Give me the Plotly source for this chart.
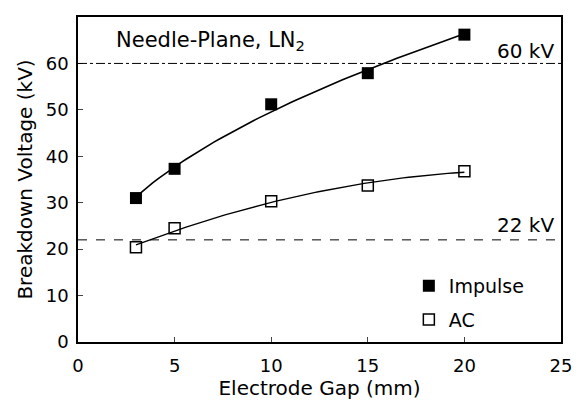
import numpy as np
import plotly.graph_objects as go

gap = [3, 5, 10, 15, 20]
impulse = [31.0, 37.3, 51.2, 57.9, 66.2]
ac = [20.4, 24.5, 30.3, 33.7, 36.8]
ref_levels = [60, 22]
ref_labels = ["60 kV", "22 kV"]
ref_shift = [-2, 1]
x_ticks = [0, 5, 10, 15, 20, 25]
y_ticks = [0, 10, 20, 30, 40, 50, 60, 70]

font = "DejaVu Sans, Arial, sans-serif"

# fitted trend curves (the original shows fitted curves through the measurements)
xf = np.linspace(min(gap), max(gap), 60)
imp_coef = np.polyfit(np.sqrt(gap), impulse, 1)
imp_fit = np.polyval(imp_coef, np.sqrt(xf))
ac_fit = np.polyval(np.polyfit(gap, ac, 2), xf)

fig = go.Figure()
fig.add_trace(go.Scatter(x=xf, y=imp_fit, mode="lines", showlegend=False,
                         line=dict(color="black", width=1.6)))
fig.add_trace(go.Scatter(x=xf, y=ac_fit, mode="lines", showlegend=False,
                         line=dict(color="black", width=1.3)))
fig.add_trace(go.Scatter(
    x=gap, y=impulse, mode="markers", name="Impulse", legendgroup="a",
    marker=dict(symbol="square", size=12, color="black"),
))
fig.add_trace(go.Scatter(
    x=gap, y=ac, mode="markers", name="AC", legendgroup="b",
    marker=dict(symbol="square-open", size=11, color="black", line=dict(width=1.5)),
))

fig.add_hline(y=ref_levels[0], line=dict(color="black", width=1, dash="dashdot"))
fig.add_hline(y=ref_levels[1], line=dict(color="black", width=1, dash="dash"))
for lvl, lab, sh in zip(ref_levels, ref_labels, ref_shift):
    fig.add_annotation(x=24.75, y=lvl, text=lab, showarrow=False,
                       xanchor="right", yanchor="bottom", yshift=sh,
                       font=dict(size=20, color="black", family=font))
fig.add_annotation(x=1.85, y=64.9, text="Needle-Plane, LN<sub>2</sub>", showarrow=False,
                   xanchor="left", yanchor="middle",
                   font=dict(size=21, color="black", family=font))

fig.update_layout(
    width=588, height=410,
    margin=dict(l=70, r=35, t=9, b=76),
    paper_bgcolor="white", plot_bgcolor="white",
    font=dict(family=font, color="black", size=18),
    showlegend=True,
    legend=dict(x=0.685, y=0.231, xanchor="left", yanchor="top",
                bgcolor="rgba(0,0,0,0)", font=dict(size=19),
                itemwidth=30, tracegroupgap=6),
)
fig.update_xaxes(range=[0, 25], tickvals=x_ticks, ticks="inside", ticklen=5,
                 showline=True, linecolor="black", linewidth=1.5, mirror=True,
                 showgrid=False, zeroline=False, automargin=False,
                 ticklabelstandoff=7,
                 title=dict(text="Electrode Gap (mm)", font=dict(size=20), standoff=6),
                 tickfont=dict(size=18))
fig.update_yaxes(range=[0, 70], tickvals=y_ticks, ticks="inside", ticklen=5,
                 showline=True, linecolor="black", linewidth=1.5, mirror=True,
                 showgrid=False, zeroline=False, automargin=False,
                 ticklabelstandoff=4,
                 title=dict(text="Breakdown Voltage (kV)", font=dict(size=20), standoff=8),
                 tickfont=dict(size=18))

fig.write_html("out.html")
